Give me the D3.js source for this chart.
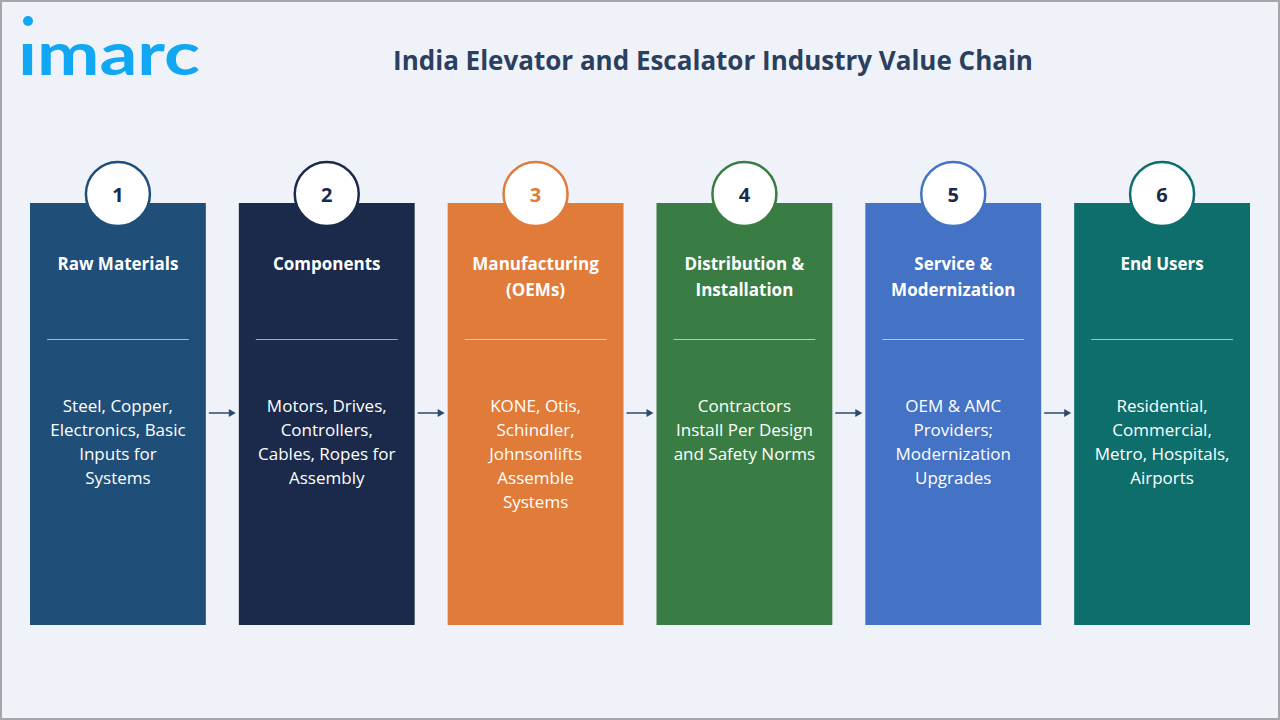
<!DOCTYPE html>
<html><head><meta charset="utf-8">
<script src="https://cdn.jsdelivr.net/npm/d3@7"></script>
<style>body{margin:0;background:#fff}svg{display:block}</style></head>
<body><svg id="c" width="1280" height="720"></svg>
<script>
const steps = ["1","2","3","4","5","6"];
const titles = [["Raw Materials"],["Components"],["Manufacturing","(OEMs)"],["Distribution &","Installation"],["Service &","Modernization"],["End Users"]];
const descs = [["Steel, Copper,","Electronics, Basic","Inputs for","Systems"],["Motors, Drives,","Controllers,","Cables, Ropes for","Assembly"],["KONE, Otis,","Schindler,","Johnsonlifts","Assemble","Systems"],["Contractors","Install Per Design","and Safety Norms"],["OEM & AMC","Providers;","Modernization","Upgrades"],["Residential,","Commercial,","Metro, Hospitals,","Airports"]];
const colors = ["#1f4e79","#1b2a4a","#e07b39","#3a7d44","#4472c4","#0e6e6b"];

const svg = d3.select("#c");
svg.append("rect").attr("x",1).attr("y",1).attr("width",1278).attr("height",718).attr("fill","#eff3f9").attr("stroke","#a6a6a6").attr("stroke-width",2);
svg.append("text").attr("x",18).attr("y",75).attr("font-family","Lato, sans-serif").attr("font-weight",700).attr("font-size",60).attr("fill","#11a7f2").attr("textLength",182).attr("lengthAdjust","spacingAndGlyphs").text("ımarc");
svg.append("circle").attr("cx",28).attr("cy",21).attr("r",5).attr("fill","#11a7f2");
svg.append("text").attr("x",713).attr("y",70).attr("text-anchor","middle").attr("font-family","Open Sans, sans-serif").attr("font-weight",700).attr("font-size",26).attr("fill","#2b3f5e").text("India Elevator and Escalator Industry Value Chain");

const x = d3.scaleBand().domain(steps).range([30,1250]).paddingInner(0.158).paddingOuter(0);
const F = "Open Sans, sans-serif";
steps.forEach((s,i)=>{
  const x0 = x(s), w = x.bandwidth(), cx = x0+w/2;
  svg.append("rect").attr("x",x0).attr("y",203).attr("width",w).attr("height",422).attr("fill",colors[i]);
  svg.append("circle").attr("cx",cx).attr("cy",194).attr("r",32).attr("fill","#fff").attr("stroke",colors[i]).attr("stroke-width",2.5);
  svg.append("text").attr("x",cx).attr("y",202).attr("text-anchor","middle").attr("font-family",F).attr("font-weight",700).attr("font-size",20).attr("fill",i==2?"#e07b39":"#1b2a4a").text(s);
  titles[i].forEach((t,j)=>svg.append("text").attr("x",cx).attr("y",270+j*26).attr("text-anchor","middle").attr("font-family",F).attr("font-weight",700).attr("font-size",17).attr("fill","#fff").text(t));
  svg.append("line").attr("x1",x0+17).attr("x2",x0+w-17).attr("y1",339.5).attr("y2",339.5).attr("stroke","#fff").attr("stroke-opacity",0.6).attr("stroke-width",1);
  descs[i].forEach((t,j)=>svg.append("text").attr("x",cx).attr("y",412+j*24).attr("text-anchor","middle").attr("font-family",F).attr("font-size",17).attr("fill","#fff").text(t));
  if(i<5){
    const ax = x0+w+3, bx = x(steps[i+1])-3;
    svg.append("line").attr("x1",ax).attr("x2",bx-6).attr("y1",413).attr("y2",413).attr("stroke","#2b4a6e").attr("stroke-width",1.5);
    svg.append("path").attr("d",`M${bx},413 L${bx-7},409 L${bx-7},417 Z`).attr("fill","#2b4a6e");
  }
});
</script></body></html>
